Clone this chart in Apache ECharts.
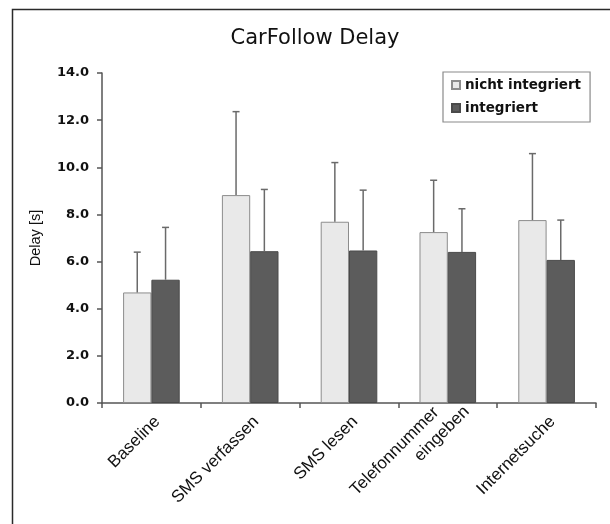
<!DOCTYPE html>
<html>
<head>
<meta charset="utf-8">
<script src="https://cdn.jsdelivr.net/npm/echarts@6/dist/echarts.min.js"></script>
<style>html,body{margin:0;padding:0;background:#fff}#c{width:610px;height:524px}</style>
</head>
<body>
<div id="c"></div>
<script>
var categories = ['Baseline', 'SMS verfassen', 'SMS lesen', 'Telefonnummer\neingeben', 'Internetsuche'];
var seriesNames = ['nicht integriert', 'integriert'];
var nichtIntegriert = [4.69, 8.82, 7.69, 7.25, 7.76];
var integriert = [5.23, 6.44, 6.47, 6.41, 6.07];
var sdNichtIntegriert = [1.71, 3.54, 2.51, 2.20, 2.82];
var sdIntegriert = [2.22, 2.62, 2.56, 1.83, 1.69];
var yTicks = [0, 2, 4, 6, 8, 10, 12, 14];

var chart = echarts.init(document.getElementById('c'), null, {renderer: 'canvas'});

var barFrac = 0.2865;
function errSeries(means, sds, side) {
  var data = means.map(function (m, i) { return [i, m, m + sds[i]]; });
  return {
    type: 'custom',
    silent: true,
    z: 5,
    data: data,
    encode: {x: 0, y: [1, 2]},
    renderItem: function (params, api) {
      var i = api.value(0);
      var base = api.coord([i, api.value(1)]);
      var top = api.coord([i, api.value(2)]);
      var bw = api.size([1, 0])[0] * barFrac;
      var x = base[0] + side * bw / 2;
      var style = {stroke: '#6a6a6a', lineWidth: 1.5};
      return {
        type: 'group',
        children: [
          {type: 'line', shape: {x1: x, y1: base[1], x2: x, y2: top[1]}, style: style},
          {type: 'line', shape: {x1: x - 3.5, y1: top[1], x2: x + 3.5, y2: top[1]}, style: style}
        ]
      };
    }
  };
}

var xData = categories.map(function (c) {
  if (c.indexOf('\n') >= 0) {
    return {value: c, textStyle: {verticalAlign: 'middle'}};
  }
  return c;
});

chart.setOption({
  animation: false,
  backgroundColor: '#ffffff',
  graphic: [{
    type: 'rect',
    shape: {x: 12.5, y: 9.5, width: 700, height: 700},
    style: {fill: 'none', stroke: '#2a2a2a', lineWidth: 1.5},
    silent: true
  }],
  title: {
    text: 'CarFollow Delay',
    left: 310,
    top: 23,
    textAlign: 'center',
    textStyle: {fontFamily: 'DejaVu Sans', fontSize: 21, fontWeight: 'normal', color: '#111'}
  },
  legend: {
    orient: 'vertical',
    left: 443,
    top: 72,
    data: seriesNames,
    icon: 'rect',
    itemWidth: 8,
    itemHeight: 8,
    itemGap: 7,
    padding: [5, 9, 6, 8],
    borderColor: '#8a8a8a',
    borderWidth: 1.2,
    backgroundColor: '#fff',
    textStyle: {fontFamily: 'DejaVu Sans', fontSize: 13.5, fontWeight: 'bold', color: '#111', lineHeight: 16}
  },
  grid: {left: 102, right: 14, top: 73, bottom: 121, containLabel: false, outerBoundsMode: 'none'},
  xAxis: {
    type: 'category',
    data: xData,
    axisLine: {lineStyle: {color: '#555', width: 1.5}},
    axisTick: {show: true, length: 5, alignWithLabel: false, lineStyle: {color: '#555', width: 1.5}},
    axisLabel: {
      interval: 0,
      rotate: 45,
      margin: 10,
      verticalAlign: 'top',
      fontFamily: 'Liberation Sans',
      fontSize: 17,
      color: '#111',
      lineHeight: 17,
      formatter: function (v) {
        var parts = v.split('\n');
        if (parts.length > 1) {
          return '{a|' + parts[0] + '}\n{b|' + parts[1] + '}';
        }
        return v;
      },
      rich: {
        a: {fontFamily: 'Liberation Sans', fontSize: 17, color: '#111', lineHeight: 21, padding: [0, 6, 0, 0]},
        b: {fontFamily: 'Liberation Sans', fontSize: 17, color: '#111', lineHeight: 21, padding: [0, -16, 0, 0]}
      }
    }
  },
  yAxis: {
    type: 'value',
    min: 0,
    max: 14,
    interval: 2,
    name: 'Delay [s]',
    nameLocation: 'middle',
    nameRotate: 90,
    nameGap: 59,
    nameTextStyle: {fontFamily: 'Liberation Sans', fontSize: 14.5, color: '#111'},
    splitLine: {show: false},
    axisLine: {show: true, lineStyle: {color: '#555', width: 1.5}},
    axisTick: {show: true, inside: false, length: 5, lineStyle: {color: '#555', width: 1.5}},
    axisLabel: {
      margin: 13,
      fontFamily: 'DejaVu Sans',
      fontSize: 13,
      fontWeight: 'bold',
      color: '#111',
      formatter: function (v) { return yTicks.indexOf(v) >= 0 ? v.toFixed(1) : ''; }
    }
  },
  series: [
    {
      name: seriesNames[0],
      type: 'bar',
      data: nichtIntegriert,
      barGap: '0%',
      barCategoryGap: '42.7%',
      itemStyle: {color: '#e9e9e9', borderColor: '#8c8c8c', borderWidth: 1}
    },
    {
      name: seriesNames[1],
      type: 'bar',
      data: integriert,
      barGap: '0%',
      barCategoryGap: '42.7%',
      itemStyle: {color: '#5c5c5c', borderColor: '#4a4a4a', borderWidth: 1}
    },
    errSeries(nichtIntegriert, sdNichtIntegriert, -1),
    errSeries(integriert, sdIntegriert, 1)
  ]
});
</script>
</body>
</html>
